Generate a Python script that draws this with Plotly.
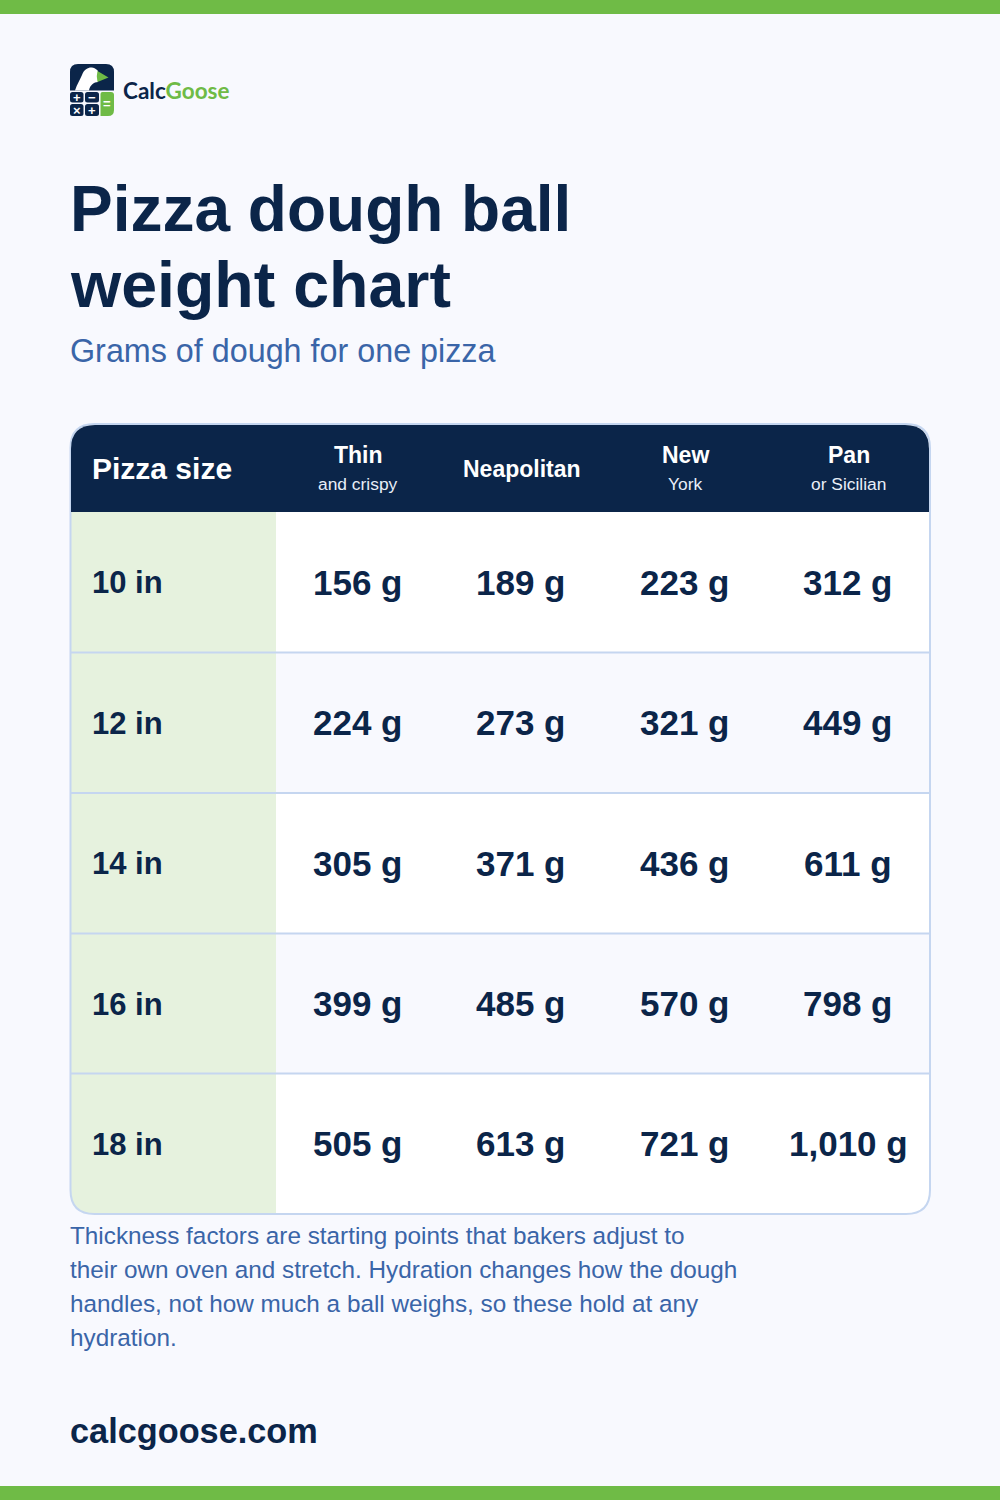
import plotly.graph_objects as go

# --- data ---
sizes = ["10 in", "12 in", "14 in", "16 in", "18 in"]
styles = ["Thin", "Neapolitan", "New", "Pan"]
style_notes = ["and crispy", "", "York", "or Sicilian"]
thin = ["156 g", "224 g", "305 g", "399 g", "505 g"]
neapolitan = ["189 g", "273 g", "371 g", "485 g", "613 g"]
new_york = ["223 g", "321 g", "436 g", "570 g", "721 g"]
pan = ["312 g", "449 g", "611 g", "798 g", "1,010 g"]
title_lines = ["Pizza dough ball", "weight chart"]
subtitle = "Grams of dough for one pizza"
note_lines = [
    "Thickness factors are starting points that bakers adjust to",
    "their own oven and stretch. Hydration changes how the dough",
    "handles, not how much a ball weighs, so these hold at any",
    "hydration.",
]
site = "calcgoose.com"
key_signs = ["+", "−", "×", "+"]

# --- style ---
NAVY = "#0b2549"
GREEN = "#6fbb46"
BLUE = "#3a65a8"
LINE = "#c5d6f0"
BG = "#f8f9fe"
SIZE_BG = "#e6f2de"
ALT_BG = "#f8f9fe"
FONT = "Liberation Sans"

col_x = [358, 521.5, 685, 848.5]
row_tops = [512, 652.5, 793, 933.5, 1073.5]
row_bottom = 1214
tbl_l, tbl_r, tbl_t = 70.5, 930, 424
radius = 24
size_col_r = 276

shapes = []
ann = []


def text(x, y, s, size, color, weight=400, anchor="left"):
    ann.append(dict(x=x, y=y, text=s, showarrow=False, xanchor=anchor, yanchor="middle",
                    borderpad=0, borderwidth=0,
                    font=dict(family=FONT, size=size, color=color, weight=weight)))


def rect(x0, y0, x1, y1, fill):
    shapes.append(dict(type="rect", x0=x0, y0=y0, x1=x1, y1=y1, fillcolor=fill, line_width=0))


def path(d, fill, width=0, color=None):
    shapes.append(dict(type="path", path=d, fillcolor=fill, line=dict(width=width, color=color)))


# page bands
rect(0, 0, 1000, 14, GREEN)
rect(0, 1486, 1000, 1500, GREEN)

# logo
path("M70,72 Q70,64 78,64 L106,64 Q114,64 114,72 L114,90.5 L70,90.5 Z", NAVY)
path("M75,90.5 C77,84 80,80 82,75 C84,69 89,67 92,67.5 C95,68 97,69.5 98,71 L98,82 C94,82 90,85 89,90.5 Z", "#ffffff")
path("M97.5,71 L108.5,77.5 L97.5,82 Q96,76 97.5,71 Z", GREEN)
for kx, ky, w, h, sign in zip([70, 85, 70, 85], [92, 92, 104, 104], [13.5, 14, 13.5, 14], [10.5, 10.5, 12, 12], key_signs):
    rx = 2.5
    path(f"M{kx+rx},{ky} L{kx+w-rx},{ky} Q{kx+w},{ky} {kx+w},{ky+rx} L{kx+w},{ky+h-rx} "
         f"Q{kx+w},{ky+h} {kx+w-rx},{ky+h} L{kx+rx},{ky+h} Q{kx},{ky+h} {kx},{ky+h-rx} "
         f"L{kx},{ky+rx} Q{kx},{ky} {kx+rx},{ky} Z", NAVY)
    text(kx + w / 2, ky + h / 2, sign, 13, "#ffffff", 700, "center")
path("M100.5,94 Q100.5,92 102.5,92 L111,92 Q114,92 114,95 L114,110 Q114,116 108,116 L100.5,116 Z", GREEN)
text(107, 103.5, "=", 13, "#ffffff", 700, "center")
ann.append(dict(x=122, y=90.5, text=f"<span style='color:{NAVY}'>Calc</span><span style='color:{GREEN}'>Goose</span>",
                showarrow=False, xanchor="left", yanchor="middle", borderpad=0,
                font=dict(family="Lato", size=22.5, weight=700)))

# headings
text(70, 208.5, title_lines[0], 64, NAVY, 700)
text(70, 284.5, title_lines[1], 64.5, NAVY, 700)
text(70, 351, subtitle, 32.3, BLUE)

# table body
body = (f"M{tbl_l},{tbl_t+radius} Q{tbl_l},{tbl_t} {tbl_l+radius},{tbl_t} L{tbl_r-radius},{tbl_t} "
        f"Q{tbl_r},{tbl_t} {tbl_r},{tbl_t+radius} L{tbl_r},{row_bottom-radius} "
        f"Q{tbl_r},{row_bottom} {tbl_r-radius},{row_bottom} L{tbl_l+radius},{row_bottom} "
        f"Q{tbl_l},{row_bottom} {tbl_l},{row_bottom-radius} Z")
path(body, "#ffffff")
for i, top in enumerate(row_tops):
    bottom = row_tops[i + 1] if i + 1 < len(row_tops) else row_bottom
    if i % 2 == 1:
        rect(size_col_r, top, tbl_r, bottom, ALT_BG)
    if i < len(row_tops) - 1:
        rect(tbl_l, top, size_col_r, bottom, SIZE_BG)
    else:
        path(f"M{tbl_l},{top} L{size_col_r},{top} L{size_col_r},{row_bottom} L{tbl_l+radius},{row_bottom} "
             f"Q{tbl_l},{row_bottom} {tbl_l},{row_bottom-radius} Z", SIZE_BG)
    if i > 0:
        shapes.append(dict(type="line", x0=tbl_l, x1=tbl_r, y0=top, y1=top, line=dict(color=LINE, width=2)))
path(body, "rgba(0,0,0,0)", 2, LINE)
# header sits over the border
hl, hr, ht = tbl_l + 0.5, tbl_r - 1, tbl_t + 1
path(f"M{hl},512 L{hl},{ht+radius} Q{hl},{ht} {hl+radius},{ht} L{hr-radius},{ht} "
     f"Q{hr},{ht} {hr},{ht+radius} L{hr},512 Z", NAVY)

text(92, 468.5, "Pizza size", 30, "#ffffff", 700)
for x, name, extra in zip(col_x, styles, style_notes):
    if extra:
        text(x, 454.5, name, 23, "#ffffff", 700, "center")
        text(x, 484, extra, 17.4, "#e8eef8", 400, "center")
    else:
        text(x, 468.5, name, 23, "#ffffff", 700, "center")

columns = [thin, neapolitan, new_york, pan]
for i, size in enumerate(sizes):
    top = row_tops[i]
    bottom = row_tops[i + 1] if i + 1 < len(row_tops) else row_bottom
    mid = (top + bottom) / 2
    text(92, mid + 0.5, size, 31, NAVY, 700)
    for x, col in zip(col_x, columns):
        text(x - 0.3, mid, col[i], 35, NAVY, 700, "center")

for i, line in enumerate(note_lines):
    text(70, 1235.5 + 34 * i, line, 24.3, BLUE)

text(70, 1430.5, site, 34.3, NAVY, 700)

fig = go.Figure()
fig.update_layout(
    width=1000, height=1500, margin=dict(l=0, r=0, t=0, b=0),
    paper_bgcolor=BG, plot_bgcolor=BG, showlegend=False,
    xaxis=dict(range=[0, 1000], visible=False, fixedrange=True),
    yaxis=dict(range=[1500, 0], visible=False, fixedrange=True),
    shapes=shapes, annotations=ann,
)
fig.write_html("out.html", config={"displayModeBar": False},
               post_script="document.body.style.margin='0';")
